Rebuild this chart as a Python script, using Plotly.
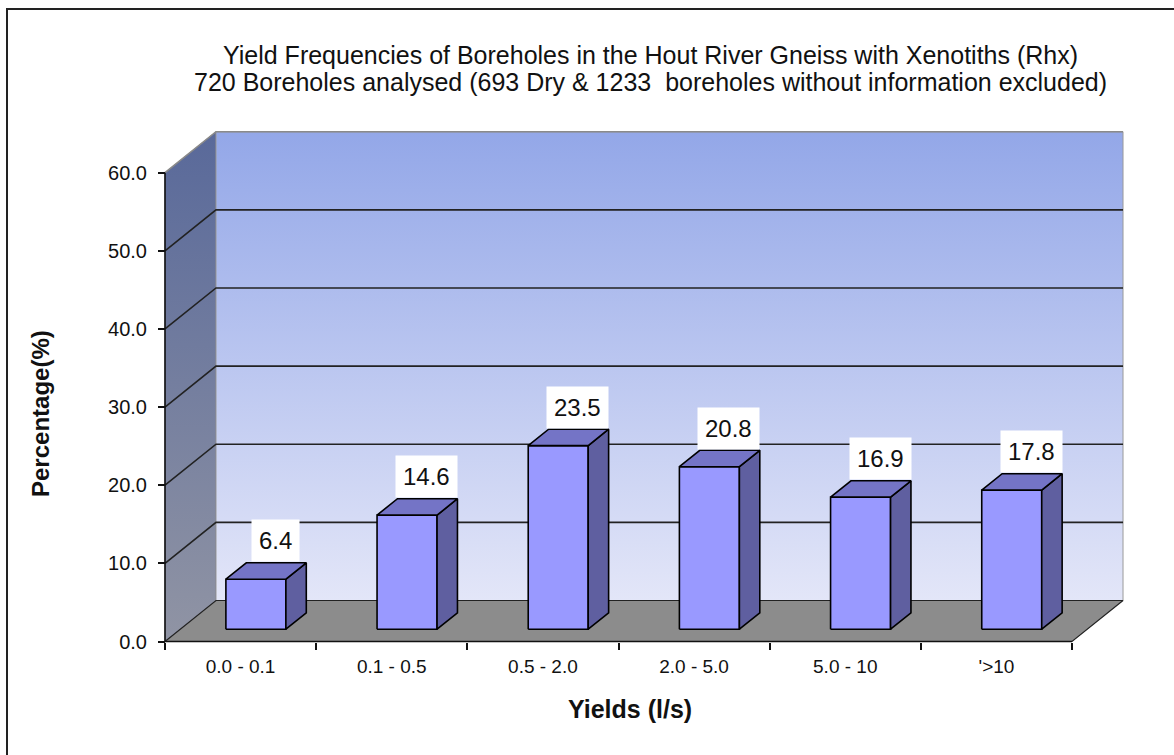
import plotly.graph_objects as go

# ---------------- data ----------------
categories = ["0.0 - 0.1", "0.1 - 0.5", "0.5 - 2.0", "2.0 - 5.0", "5.0 - 10", "'>10"]
values = [6.4, 14.6, 23.5, 20.8, 16.9, 17.8]
y_ticks = [0, 10, 20, 30, 40, 50, 60]
title_line1 = "Yield Frequencies of Boreholes in the Hout River Gneiss with Xenotiths (Rhx)"
title_line2 = "720 Boreholes analysed (693 Dry & 1233  boreholes without information excluded)"
x_title = "Yields (l/s)"
y_title = "Percentage(%)"

# ---------------- layout / projection constants ----------------
W, H = 1174, 755
X0_PX, CAT_PX = 165.0, 151.17      # front-left corner, pixels per category
Y0_PX, UNIT_PX = 641.5, 7.813      # front zero line, pixels per value unit
DEPTH_DX_PX, DEPTH_DY_PX = 51.0, 41.0
BAR_W_PX = 60.0
YMAX = 60

ddx = DEPTH_DX_PX / CAT_PX          # depth offset in x data units
ddy = DEPTH_DY_PX / UNIT_PX         # depth offset in y data units
bw = BAR_W_PX / CAT_PX
n = len(categories)

x_range = [-X0_PX / CAT_PX, (W - X0_PX) / CAT_PX]
y_range = [-(H - Y0_PX) / UNIT_PX, Y0_PX / UNIT_PX]

FONT = "Liberation Sans, Arial, sans-serif"

fig = go.Figure()


def poly(xs, ys, fill=None, line_color="black", line_width=1.0, gradient=None):
    kw = dict(x=list(xs) + [xs[0]], y=list(ys) + [ys[0]], mode="lines",
              line=dict(color=line_color, width=line_width),
              hoverinfo="skip", showlegend=False)
    if fill is not None or gradient is not None:
        kw["fill"] = "toself"
        if fill is not None:
            kw["fillcolor"] = fill
        if gradient is not None:
            kw["fillgradient"] = dict(type="vertical", colorscale=gradient)
    fig.add_trace(go.Scatter(**kw))


# side wall
poly([0, ddx, ddx, 0], [0, ddy, YMAX + ddy, YMAX],
     line_color="rgba(90,90,110,0.6)", line_width=1,
     gradient=[[0, "#9094A4"], [1, "#59699A"]])
# back wall
poly([ddx, n + ddx, n + ddx, ddx], [ddy, ddy, YMAX + ddy, YMAX + ddy],
     line_color="#9A9A9A", line_width=1,
     gradient=[[0, "#E3E6F8"], [1, "#93A7E8"]])
# floor
poly([0, n, n + ddx, ddx], [0, 0, ddy, ddy], fill="#8C8C8C",
     line_color="#222222", line_width=1.2)

# gridlines on walls
for v in y_ticks[1:]:
    col = "#8A8A8A" if v == YMAX else "#222222"
    fig.add_trace(go.Scatter(x=[0, ddx, n + ddx], y=[v, v + ddy, v + ddy],
                             mode="lines", line=dict(color=col, width=1.6),
                             hoverinfo="skip", showlegend=False))

# bars
f0, f1 = 0.3, 0.7
for i, v in enumerate(values):
    c = i + 0.5
    xl = c + f0 * ddx - bw / 2
    xr = xl + bw
    yb = f0 * ddy
    yt = v + f0 * ddy
    bx = (f1 - f0) * ddx
    by = (f1 - f0) * ddy
    # front
    poly([xl, xr, xr, xl], [yb, yb, yt, yt], fill="#9999FF", line_width=1.6)
    # side
    poly([xr, xr + bx, xr + bx, xr], [yb, yb + by, yt + by, yt],
         fill="#5F5FA0", line_width=1.6)
    # top
    poly([xl, xr, xr + bx, xl + bx], [yt, yt, yt + by, yt + by],
         fill="#7474C6", line_width=1.6)

# axis lines
fig.add_trace(go.Scatter(x=[0, 0], y=[0, YMAX], mode="lines",
                         line=dict(color="#111111", width=1.6),
                         hoverinfo="skip", showlegend=False))
fig.add_trace(go.Scatter(x=[0, n], y=[0, 0], mode="lines",
                         line=dict(color="#111111", width=1.6),
                         hoverinfo="skip", showlegend=False))

# data labels
LABEL_DX, LABEL_DY = 0.23, 6.5
annotations = []
for i, v in enumerate(values):
    annotations.append(dict(x=i + 0.5 + LABEL_DX, y=v + LABEL_DY, xref="x", yref="y",
                            text=f"{v:.1f}", showarrow=False, bgcolor="white",
                            borderpad=7, font=dict(family=FONT, size=24, color="#111111"),
                            xanchor="center", yanchor="middle"))

# titles
annotations.append(dict(x=650 / W, y=1 - 55 / H, xref="paper", yref="paper",
                        text=title_line1, showarrow=False,
                        font=dict(family=FONT, size=25, color="#111111"),
                        xanchor="center", yanchor="middle"))
annotations.append(dict(x=650 / W, y=1 - 82 / H, xref="paper", yref="paper",
                        text=title_line2, showarrow=False,
                        font=dict(family=FONT, size=25, color="#111111"),
                        xanchor="center", yanchor="middle"))
annotations.append(dict(x=630 / W, y=1 - 709 / H, xref="paper", yref="paper",
                        text=f"<b>{x_title}</b>", showarrow=False,
                        font=dict(family=FONT, size=25, color="#111111"),
                        xanchor="center", yanchor="middle"))
annotations.append(dict(x=40 / W, y=1 - 414 / H, xref="paper", yref="paper",
                        text=f"<b>{y_title}</b>", showarrow=False, textangle=-90,
                        font=dict(family=FONT, size=24, color="#111111"),
                        xanchor="center", yanchor="middle"))

fig.update_layout(
    width=W, height=H, autosize=False,
    margin=dict(l=0, r=0, t=0, b=0, pad=0),
    paper_bgcolor="white", plot_bgcolor="white",
    showlegend=False, hovermode=False,
    annotations=annotations,
    shapes=[dict(type="rect", xref="paper", yref="paper",
                 x0=7 / W, x1=1.02, y0=-0.02, y1=1 - 9 / H,
                 line=dict(color="#222222", width=2), fillcolor="rgba(0,0,0,0)",
                 layer="above")],
    xaxis=dict(range=x_range, domain=[0, 1], anchor="free",
               position=(H - Y0_PX) / H,
               tickmode="array", tickvals=[i + 0.5 for i in range(n)],
               ticktext=categories, ticks="", showgrid=False, zeroline=False,
               showline=False, tickfont=dict(family=FONT, size=19, color="#111111"),
               ticklabelstandoff=11,
               minor=dict(tickmode="array", tickvals=list(range(n + 1)),
                          ticks="outside", ticklen=7, tickwidth=1.5,
                          tickcolor="#111111", showgrid=False)),
    yaxis=dict(range=y_range, domain=[0, 1], anchor="free",
               position=X0_PX / W,
               tickmode="array", tickvals=y_ticks, tickformat=".1f",
               ticks="outside", ticklen=7, tickwidth=1.5, tickcolor="#111111",
               showgrid=False, zeroline=False, showline=False,
               tickfont=dict(family=FONT, size=20, color="#111111"),
               ticklabelstandoff=7),
)

fig.write_html("out.html", config={"displayModeBar": False},
               post_script="document.body.style.margin='0';")
